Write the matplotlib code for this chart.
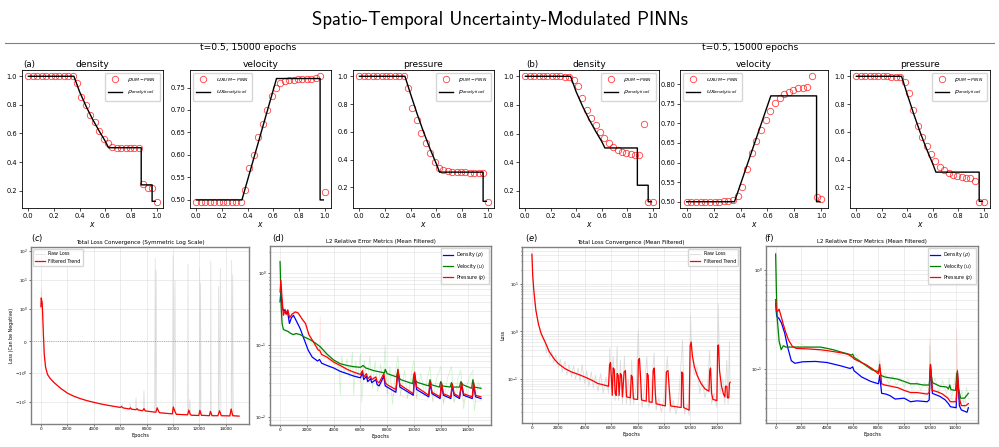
import matplotlib.pyplot as plt
import numpy as np
from matplotlib.lines import Line2D

W, H = 999, 447

# ---------------- top row: profiles at t=0.5 ----------------
x_grid = np.linspace(0, 1, 30)

rho_a = [1.00, 1.00, 1.00, 1.00, 1.00, 1.00, 1.00, 1.00, 1.00, 1.00, 1.00,
         0.95, 0.856, 0.80, 0.73, 0.68, 0.62, 0.56, 0.53, 0.506,
         0.499, 0.497, 0.495, 0.495, 0.495, 0.495, 0.247, 0.219, 0.219, 0.122]
u_a = [0.496, 0.496, 0.496, 0.496, 0.496, 0.496, 0.496, 0.496, 0.496, 0.496, 0.496,
       0.522, 0.572, 0.601, 0.641, 0.669, 0.701, 0.731, 0.750, 0.761, 0.765,
       0.766, 0.767, 0.768, 0.768, 0.769, 0.770, 0.771, 0.775, 0.517]
p_a = [1.00, 1.00, 1.00, 1.00, 1.00, 1.00, 1.00, 1.00, 1.00, 1.00, 1.00,
       0.917, 0.77, 0.686, 0.59, 0.52, 0.445, 0.382, 0.34, 0.324,
       0.315, 0.31, 0.31, 0.31, 0.308, 0.307, 0.306, 0.305, 0.305, 0.097]

rho_b = [1.00, 1.00, 1.00, 1.00, 1.00, 1.00, 1.00, 1.00, 0.999, 0.998, 0.993,
         0.976, 0.93, 0.845, 0.765, 0.71, 0.66, 0.61, 0.567, 0.532, 0.506,
         0.487, 0.475, 0.468, 0.459, 0.454, 0.454, 0.668, 0.125, 0.125]
u_b = [0.50, 0.50, 0.50, 0.50, 0.50, 0.50, 0.50, 0.50, 0.501, 0.502, 0.504,
       0.514, 0.538, 0.583, 0.624, 0.656, 0.682, 0.708, 0.732, 0.751, 0.764,
       0.775, 0.781, 0.785, 0.789, 0.791, 0.793, 0.82, 0.511, 0.507]
p_b = [1.00, 1.00, 1.00, 1.00, 1.00, 1.00, 0.999, 0.999, 0.998, 0.997, 0.993,
       0.956, 0.883, 0.754, 0.64, 0.562, 0.499, 0.438, 0.389, 0.345, 0.324,
       0.304, 0.292, 0.282, 0.272, 0.268, 0.268, 0.246, 0.097, 0.097]

# analytical (exact Riemann) solution
rho_ana_x = [0.0, 0.355, 0.40, 0.45, 0.50, 0.55, 0.60, 0.625, 0.88, 0.88, 0.965, 0.965, 0.99]
rho_ana_y = [1.0, 1.0, 0.89, 0.79, 0.70, 0.62, 0.545, 0.50, 0.50, 0.24, 0.24, 0.125, 0.125]
u_ana_x = [0.0, 0.355, 0.625, 0.965, 0.965, 0.99]
u_ana_y = [0.5, 0.5, 0.77, 0.77, 0.5, 0.5]
p_ana_x = [0.0, 0.355, 0.40, 0.45, 0.50, 0.55, 0.60, 0.625, 0.965, 0.965, 0.99]
p_ana_y = [1.0, 1.0, 0.87, 0.73, 0.60, 0.48, 0.37, 0.31, 0.31, 0.10, 0.10]

# ---------------- (c) total loss, symlog ----------------
c_raw_ep = [0, 40, 80, 150, 250, 400, 700, 1000, 1500, 2000, 3000, 4000, 5000, 6000,
            6150, 6250, 6700, 6750, 6800, 7150, 7200, 7250, 7750, 7800, 7850,
            8600, 8650, 8680, 8720, 8760, 9950, 10000, 10050, 10150, 10200,
            11100, 11130, 11160, 11280, 11320, 11980, 12020, 12060, 12090, 12120,
            12830, 12860, 12890, 13420, 13450, 13480, 13580, 13620,
            14400, 14440, 14470, 14520, 14560, 15000]
c_raw_val = [1.0, 4.5, 1.8, 0.8, -0.3, -0.9, -1.5, -2.1, -3.3, -4.8, -7.5, -10, -12.5, -15,
             -12, -16, -17, -11, -17, -18, -7, -18.5, -19.5, -4, -20,
             -22, 55, -20, 22, -22, -25, 70, -24, 10, -25,
             -27, 35, -26, -8, -27, -28, 25, -26, 7.5, -28,
             -28, 45, -27, -28, 6, -27, 25, -28,
             -28, 48, -27, 15, -29, -30]
c_trend_ep = [0, 25, 100, 180, 250, 350, 500, 700, 1000, 1500, 2000, 2500, 3000, 3500,
              4000, 4500, 5000, 5500, 6000, 6100, 6200, 6700, 6780, 6860, 7200, 7280,
              7360, 7700, 7800, 7900, 8700, 8800, 8920, 9000, 9950, 10020, 10150,
              10250, 11100, 11200, 11300, 11400, 11950, 12030, 12150, 12750, 12830,
              12950, 13400, 13520, 13650, 14300, 14400, 14520, 15000]
c_trend_val = [1.2, 2.4, 1.6, 0.3, -0.4, -0.8, -1.1, -1.5, -2.1, -3.3, -4.8, -6.2, -7.5, -8.8,
               -10, -11.3, -12.5, -13.7, -15, -14, -15.5, -17, -15.5, -17.3, -18, -16.5,
               -18.3, -19.5, -16.5, -19.8, -22, -15.5, -21, -23, -25, -14.5, -21,
               -26, -27, -18.5, -26, -28, -28.5, -19, -28, -29, -20.5,
               -29, -29, -19.5, -29, -29.5, -17, -29, -30]

# ---------------- (d) L2 errors, run 1 ----------------
d_rho_ep = [0, 60, 150, 250, 350, 450, 550, 700, 850, 1000, 1200, 1500, 1800, 2100, 2400,
            2800, 2950, 3100, 3500, 4000, 4500, 5000, 5500, 6000, 6150, 6250, 6450, 6550,
            6750, 6850, 7150, 7250, 7400, 7750, 7850, 8000, 8650, 8800, 8950, 9950, 10050,
            10200, 11100, 11200, 11350, 11950, 12050, 12200, 12750, 12850, 13000, 13400,
            13550, 13700, 14350, 14450, 14600, 15000]
d_rho_val = [0.4, 0.55, 0.35, 0.3, 0.31, 0.27, 0.3, 0.2, 0.24, 0.26, 0.22, 0.17, 0.12, 0.085, 0.068,
             0.06, 0.063, 0.056, 0.052, 0.048, 0.043, 0.04, 0.037, 0.035, 0.041, 0.033, 0.037, 0.031,
             0.034, 0.03, 0.033, 0.028, 0.027, 0.037, 0.027, 0.026, 0.022, 0.043, 0.026, 0.02, 0.039,
             0.024, 0.019, 0.029, 0.021, 0.018, 0.028, 0.02, 0.018, 0.027, 0.02, 0.018,
             0.028, 0.02, 0.018, 0.028, 0.019, 0.018]
d_u_ep = [0, 30, 80, 150, 250, 400, 600, 800, 1000, 1200, 1500, 1800, 2200, 2600, 3000, 3500,
          4000, 4500, 5000, 5500, 6000, 6200, 6400, 7000, 7800, 7850, 8000, 8700, 8800, 8900,
          9000, 9900, 10000, 10100, 10300, 11100, 11200, 11300, 11900, 12000, 12100, 12700,
          12800, 12900, 13400, 13500, 13650, 14300, 14400, 14500, 15000]
d_u_val = [1.45, 0.9, 0.35, 0.2, 0.165, 0.16, 0.155, 0.145, 0.14, 0.145, 0.14, 0.13, 0.12, 0.108,
           0.095, 0.075, 0.062, 0.055, 0.052, 0.05, 0.049, 0.052, 0.048, 0.044, 0.041, 0.046, 0.04,
           0.036, 0.045, 0.035, 0.033, 0.029, 0.04, 0.032, 0.03, 0.027, 0.033, 0.028, 0.026, 0.031,
           0.027, 0.026, 0.03, 0.026, 0.026, 0.031, 0.028, 0.025, 0.033, 0.026, 0.025]
d_p_ep = [0, 60, 150, 250, 380, 480, 580, 720, 900, 1150, 1350, 1650, 1900, 2150, 2500, 2850,
          2950, 3100, 3500, 4000, 4500, 5000, 5500, 6000, 6150, 6250, 6450, 6550, 6750, 6850,
          7150, 7250, 7400, 7750, 7850, 8000, 8650, 8800, 8950, 9950, 10050, 10200, 11100,
          11200, 11350, 11950, 12050, 12200, 12750, 12850, 13000, 13400, 13550, 13700, 14350,
          14450, 14600, 15000]
d_p_val = [0.55, 0.8, 0.45, 0.26, 0.31, 0.27, 0.31, 0.24, 0.27, 0.29, 0.28, 0.23, 0.2, 0.14,
           0.11, 0.085, 0.085, 0.074, 0.068, 0.058, 0.052, 0.046, 0.042, 0.039, 0.044, 0.036,
           0.04, 0.034, 0.037, 0.033, 0.036, 0.031, 0.03, 0.04, 0.03, 0.028, 0.024, 0.046, 0.028,
           0.021, 0.042, 0.026, 0.02, 0.031, 0.022, 0.019, 0.03, 0.021, 0.019, 0.029, 0.021,
           0.019, 0.03, 0.021, 0.019, 0.03, 0.02, 0.019]
d_u_raw_ep = [0, 100, 200, 600, 1000, 1500, 2000, 2500, 3000, 3500, 4000, 4400, 4500, 4600,
              4800, 5000, 5200, 5400, 5500, 5650, 5800, 6000, 6100, 6300, 6500, 6700, 6900,
              7100, 7300, 7500, 7700, 7850, 8000, 8200, 8400, 8600, 8800, 9000, 9300, 9500,
              9800, 10000, 10200, 10500, 10800, 11000, 11200, 11400, 11700, 12000, 12200,
              12500, 12800, 13000, 13300, 13500, 13700, 14000, 14400, 14500, 14800, 15000]
d_u_raw_val = [1.5, 0.4, 0.17, 0.15, 0.14, 0.14, 0.12, 0.1, 0.09, 0.07, 0.06, 0.05, 0.02, 0.07,
               0.04, 0.065, 0.035, 0.08, 0.02, 0.06, 0.035, 0.075, 0.016, 0.06, 0.03, 0.07, 0.025,
               0.06, 0.022, 0.055, 0.03, 0.1, 0.02, 0.05, 0.015, 0.04, 0.07, 0.02, 0.045, 0.018,
               0.04, 0.06, 0.018, 0.04, 0.02, 0.035, 0.05, 0.017, 0.035, 0.05, 0.015,
               0.035, 0.05, 0.016, 0.035, 0.045, 0.013, 0.03, 0.045, 0.012, 0.03, 0.025]
d_p_raw_ep = [0, 100, 200, 400, 700, 1000, 1500, 2000, 2500, 2950, 3000, 3050, 3500, 4000,
              4500, 5000, 5500, 6000, 6200, 6500, 7000, 7500, 7850, 8000, 8500, 8800, 9000,
              9500, 10000, 10200, 11000, 11200, 11400, 12000, 12200, 12800, 13000, 13500,
              13700, 14400, 14600, 15000]
d_p_raw_val = [0.9, 0.35, 0.25, 0.33, 0.24, 0.3, 0.26, 0.17, 0.11, 0.085, 0.25, 0.07, 0.065,
               0.055, 0.05, 0.045, 0.04, 0.03, 0.05, 0.03, 0.035, 0.025, 0.045, 0.022, 0.02,
               0.05, 0.02, 0.018, 0.045, 0.018, 0.017, 0.033, 0.016, 0.032, 0.016, 0.03, 0.016,
               0.032, 0.016, 0.033, 0.016, 0.017]

# ---------------- (e) total loss, run 2 ----------------
e_raw_ep = [0, 50, 120, 250, 400, 600, 800, 1000, 1100, 1200, 1350, 1500, 1650, 1800, 2000,
            2150, 2300, 2500, 2650, 2800, 3000, 3150, 3300, 3500, 3650, 3800, 4000, 4150, 4300,
            4500, 4650, 4800, 5000, 5200, 5400, 5600, 5800, 5900, 6000, 6150, 6300, 6450, 6550,
            6700, 6850, 7000, 7150, 7300, 7450, 7550, 7700, 7900, 8050, 8200, 8350, 8500, 8700,
            8850, 9000, 9250, 9400, 9600, 9800, 10000, 10250, 10450, 10700, 10900, 11100,
            11400, 11550, 11750, 11900, 12000, 12100, 12300, 12500, 12700, 12900, 13100, 13300,
            13450, 13600, 13800, 14000, 14100, 14250, 14450, 14600, 14750, 14850, 14950, 15000]
e_raw_val = [45, 20, 8, 3.5, 2, 1.1, 0.75, 0.55, 0.35, 0.5, 0.28, 0.38, 0.22, 0.32, 0.17,
             0.26, 0.14, 0.24, 0.12, 0.2, 0.11, 0.19, 0.1, 0.17, 0.09, 0.2, 0.08, 0.15, 0.07,
             0.14, 0.065, 0.12, 0.055, 0.13, 0.05, 0.11, 0.05, 0.45, 0.06, 0.3, 0.035, 0.48, 0.035,
             0.25, 0.03, 0.3, 0.03, 0.1, 0.028, 0.25, 0.03, 0.07, 1.05, 0.05, 0.025, 0.06, 0.3,
             0.025, 0.05, 0.35, 0.022, 0.04, 0.02, 0.04, 0.3, 0.02, 0.035, 0.018, 0.035,
             0.65, 0.018, 0.03, 0.017, 2.2, 0.4, 0.12, 0.18, 0.05, 0.09, 0.04, 0.07,
             0.4, 0.03, 0.05, 0.025, 3.6, 0.05, 0.1, 0.03, 0.25, 0.03, 0.6, 0.06]
e_trend_ep = [0, 60, 150, 300, 500, 700, 1000, 1300, 1700, 2000, 2500, 3000, 3500, 4000, 4500,
              5000, 5500, 5800, 5880, 5950, 6020, 6080, 6150, 6230, 6300, 6380, 6450, 6530, 6600,
              6700, 6780, 6850, 6980, 7080, 7160, 7450, 7520, 7600, 7680, 8000, 8060, 8140, 8230,
              8300, 8650, 8720, 8800, 8870, 9100, 9180, 9260, 9340, 9400, 10100, 10180, 10300,
              10400, 10500, 11300, 11340, 11420, 11480, 11900, 11980, 12050, 12150, 12300,
              12500, 12800, 13100, 13400, 13460, 13520, 13600, 13700, 14000, 14060, 14120,
              14200, 14350, 14500, 14600, 14650, 14750, 14800, 14900, 14950, 15000]
e_trend_val = [42, 15, 7, 2.8, 1.4, 0.9, 0.6, 0.38, 0.26, 0.21, 0.165, 0.14, 0.125, 0.11, 0.095,
               0.08, 0.074, 0.07, 0.2, 0.22, 0.1, 0.045, 0.17, 0.16, 0.05, 0.045, 0.13, 0.12, 0.045,
               0.13, 0.12, 0.042, 0.14, 0.15, 0.042, 0.04, 0.12, 0.11, 0.038, 0.037, 0.25, 0.27, 0.1,
               0.036, 0.034, 0.13, 0.12, 0.033, 0.032, 0.15, 0.17, 0.05, 0.03, 0.027, 0.14, 0.15,
               0.06, 0.027, 0.025, 0.14, 0.13, 0.025, 0.022, 0.5, 0.6, 0.3, 0.18,
               0.12, 0.08, 0.062, 0.055, 0.15, 0.17, 0.05, 0.037, 0.035, 0.5, 0.52,
               0.15, 0.07, 0.048, 0.042, 0.07, 0.07, 0.04, 0.04, 0.08, 0.085]

# ---------------- (f) L2 errors, run 2 ----------------
f_rho_ep = [0, 80, 270, 450, 700, 960, 1220, 1500, 2100, 3100, 4000, 5000, 5800, 6000, 6100,
            6700, 7400, 8000, 8100, 8250, 8600, 8900, 9300, 10000, 10500, 11000, 11800, 11950,
            12050, 12200, 12800, 13200, 13450, 13600, 14050, 14150, 14300, 14450, 14900, 15000]
f_rho_val = [0.46, 0.34, 0.32, 0.29, 0.23, 0.16, 0.12, 0.113, 0.117, 0.118, 0.115, 0.107, 0.1,
             0.104, 0.095, 0.082, 0.074, 0.07, 0.085, 0.056, 0.055, 0.053, 0.049, 0.05, 0.046,
             0.047, 0.046, 0.048, 0.11, 0.056, 0.052, 0.048, 0.044, 0.041, 0.04, 0.09, 0.042,
             0.038, 0.036, 0.04]
f_u_ep = [0, 60, 120, 270, 430, 600, 800, 1500, 2500, 3500, 4000, 4500, 5000, 5500, 5900, 6000,
          6100, 6500, 7000, 7500, 8000, 8100, 8200, 8500, 9000, 9500, 10000, 10500, 11000, 11500,
          11950, 12050, 12200, 12800, 13300, 13450, 13550, 13650, 14000, 14100, 14200, 14400,
          14700, 15000]
f_u_val = [1.45, 0.6, 0.33, 0.19, 0.155, 0.17, 0.165, 0.165, 0.165, 0.165, 0.16, 0.155, 0.148,
           0.142, 0.137, 0.14, 0.13, 0.12, 0.108, 0.097, 0.093, 0.1, 0.085, 0.082, 0.08, 0.078,
           0.074, 0.07, 0.07, 0.068, 0.068, 0.1, 0.072, 0.066, 0.065, 0.062, 0.068, 0.061, 0.06,
           0.09, 0.065, 0.05, 0.05, 0.056]
f_p_ep = [0, 60, 150, 270, 450, 600, 800, 1000, 1300, 1600, 2500, 3500, 4000, 5000, 5600, 6000,
          6100, 6500, 7000, 7500, 8000, 8100, 8250, 8500, 9000, 9500, 10000, 10500, 11000, 11800,
          11950, 12050, 12200, 12600, 13000, 13400, 13600, 14050, 14150, 14300, 14450, 14800,
          15000]
f_p_val = [0.5, 0.38, 0.38, 0.4, 0.33, 0.28, 0.23, 0.195, 0.168, 0.16, 0.158, 0.155, 0.152,
           0.145, 0.14, 0.13, 0.125, 0.118, 0.11, 0.1, 0.088, 0.11, 0.07, 0.068, 0.066, 0.064,
           0.06, 0.057, 0.057, 0.055, 0.057, 0.11, 0.06, 0.058, 0.055, 0.05, 0.046, 0.046, 0.095,
           0.05, 0.042, 0.042, 0.044]
f_u_raw_ep = [0, 80, 200, 600, 2000, 4000, 5800, 6000, 6200, 6800, 7400, 7900, 8100, 8200,
              8500, 8800, 9100, 9400, 9700, 10000, 10300, 10600, 11000, 11300, 11600, 11950,
              12000, 12100, 12400, 12700, 13000, 13300, 13500, 13700, 14000, 14150, 14300,
              14500, 14700, 14850, 15000]
f_u_raw_val = [1.5, 0.3, 0.18, 0.17, 0.165, 0.16, 0.14, 0.125, 0.14, 0.11, 0.1, 0.09, 0.12,
               0.075, 0.09, 0.07, 0.085, 0.068, 0.08, 0.065, 0.078, 0.062, 0.075, 0.06, 0.072,
               0.06, 0.17, 0.06, 0.08, 0.058, 0.075, 0.055, 0.08, 0.05, 0.085, 0.1, 0.045, 0.06,
               0.04, 0.065, 0.05]
f_p_raw_ep = [0, 100, 1000, 3000, 6000, 7500, 8050, 8100, 8200, 9000, 10000, 11000, 11950,
              12000, 12100, 13000, 14050, 14100, 14200, 15000]
f_p_raw_val = [0.5, 0.38, 0.2, 0.155, 0.13, 0.1, 0.088, 0.14, 0.068, 0.066, 0.06, 0.057, 0.057,
               0.2, 0.06, 0.055, 0.046, 0.25, 0.05, 0.044]

panel_titles = ["density", "velocity", "pressure"]
legend_locs = ["upper right", "upper left", "upper right"]
subtitle = "t=0.5, 15000 epochs"


def px_axes(fig, left, top, right, bottom):
    return fig.add_axes([left / W, 1 - bottom / H, (right - left) / W, (bottom - top) / H])


def plot_profile(ax, pred, ana_x, ana_y, sym, title, loc):
    ax.plot(x_grid, pred, 'o', mfc='none', mec='red', alpha=0.75, ms=4.6, mew=0.6,
            label=rf'${sym}_{{UM-PINN}}$')
    ax.plot(ana_x, ana_y, color='black', lw=1.0, label=rf'${sym}_{{analytical}}$')
    ax.set_title(title, fontsize=6.6, pad=2)
    ax.set_xlabel(r'$x$', fontsize=5.5, labelpad=1)
    ax.set_xticks([0, 0.2, 0.4, 0.6, 0.8, 1.0])
    ax.tick_params(labelsize=4.8, length=2, width=0.5, pad=1.5)
    for s in ax.spines.values():
        s.set_linewidth(0.6)
    ax.legend(loc=loc, fontsize=4.6, handlelength=2.2, borderpad=0.5, labelspacing=0.7)


def style_bottom(ax, title, ylabel=None):
    ax.set_xlim(-750, 15750)
    ax.set_xticks(range(0, 15000, 2000))
    ax.set_title(title, fontsize=4.0, pad=2)
    ax.set_xlabel("Epochs", fontsize=3.6, labelpad=1)
    if ylabel:
        ax.set_ylabel(ylabel, fontsize=3.4, labelpad=1)
    ax.tick_params(which='both', labelsize=3.0, length=1.5, width=0.4, pad=1)
    ax.tick_params(which='minor', length=0.8)
    for s in ax.spines.values():
        s.set_color('#808080')
        s.set_linewidth(1.0)


fig = plt.figure(figsize=(9.99, 4.47), dpi=100)

fig.text(0.5, 1 - 20 / H, "Spatio-Temporal Uncertainty-Modulated PINNs", family='cmss10',
         fontsize=13.5, ha='center', va='center')
fig.add_artist(Line2D([5 / W, 994 / W], [1 - 43 / H, 1 - 43 / H], color='#808080', lw=0.8))
fig.text(248 / W, 1 - 48 / H, subtitle, fontsize=6.6, ha='center', va='center')
fig.text(750 / W, 1 - 48 / H, subtitle, fontsize=6.6, ha='center', va='center')
fig.text(29 / W, 1 - 64 / H, "(a)", fontsize=6.2, ha='center', va='center')
fig.text(532 / W, 1 - 64 / H, "(b)", fontsize=6.2, ha='center', va='center')

top_boxes_a = [(22, 163), (190, 331), (353, 494)]
top_boxes_b = [(519, 659), (680, 828), (850, 990)]
for boxes, preds in [(top_boxes_a, [rho_a, u_a, p_a]), (top_boxes_b, [rho_b, u_b, p_b])]:
    for (l, r), pred, ax_x, ax_y, sym, t, loc in zip(boxes, preds,
                                                  [rho_ana_x, u_ana_x, p_ana_x],
                                                  [rho_ana_y, u_ana_y, p_ana_y],
                                                  [r'\rho', 'ux', 'p'], panel_titles, legend_locs):
        plot_profile(px_axes(fig, l, 70, r, 208), pred, ax_x, ax_y, sym, t, loc)

# (c)
ax = px_axes(fig, 31, 247, 249, 424)
ax.plot(c_raw_ep, c_raw_val, color='lightgray', lw=0.5, alpha=0.8, label='Raw Loss')
ax.plot(c_trend_ep, c_trend_val, color='red', lw=0.9, label='Filtered Trend')
ax.axhline(0, color='gray', ls=':', lw=0.6, alpha=0.8)
ax.set_yscale('symlog', linthresh=1)
ax.set_ylim(-56, 137)
ax.grid(True, color='#dddddd', lw=0.4)
style_bottom(ax, "Total Loss Convergence (Symmetric Log Scale)", "Loss (Can be Negative)")
ax.legend(loc='upper left', fontsize=3.4)

# (d)
ax = px_axes(fig, 270, 246, 491, 425)
ax.plot(d_u_raw_ep, d_u_raw_val, color='limegreen', lw=0.5, alpha=0.25)
ax.plot(d_p_raw_ep, d_p_raw_val, color='red', lw=0.5, alpha=0.12)
ax.plot(d_rho_ep, d_rho_val, color='blue', lw=0.9, label=r'Density ($\rho$)')
ax.plot(d_u_ep, d_u_val, color='green', lw=0.9, label=r'Velocity ($u$)')
ax.plot(d_p_ep, d_p_val, color='red', lw=0.9, label=r'Pressure ($p$)')
ax.set_yscale('log')
ax.set_ylim(0.0077, 2.4)
ax.grid(True, which='both', color='#e0e0e0', lw=0.4)
style_bottom(ax, "L2 Relative Error Metrics (Mean Filtered)")
ax.legend(loc='upper right', fontsize=3.4)

# (e)
ax = px_axes(fig, 522, 247, 740, 423)
ax.plot(e_raw_ep, e_raw_val, color='lightgray', lw=0.6, alpha=0.8, label='Raw Loss')
ax.plot(e_trend_ep, e_trend_val, color='red', lw=0.9, label='Filtered Trend')
ax.set_yscale('log')
ax.set_ylim(0.0118, 60)
ax.grid(True, which='both', color='#e0e0e0', lw=0.4)
style_bottom(ax, "Total Loss Convergence (Mean Filtered)", "Loss")
ax.legend(loc='upper right', fontsize=3.4)

# (f)
ax = px_axes(fig, 766, 246, 978, 423)
ax.plot(f_u_raw_ep, f_u_raw_val, color='limegreen', lw=0.5, alpha=0.25)
ax.plot(f_p_raw_ep, f_p_raw_val, color='red', lw=0.5, alpha=0.15)
ax.plot(f_rho_ep, f_rho_val, color='blue', lw=0.9, label=r'Density ($\rho$)')
ax.plot(f_u_ep, f_u_val, color='green', lw=0.9, label=r'Velocity ($u$)')
ax.plot(f_p_ep, f_p_val, color='red', lw=0.9, label=r'Pressure ($p$)')
ax.set_yscale('log')
ax.set_ylim(0.028, 1.75)
ax.grid(True, which='both', color='#e0e0e0', lw=0.4)
style_bottom(ax, "L2 Relative Error Metrics (Mean Filtered)")
ax.legend(loc='upper right', fontsize=3.4)

for (x, y), lab in zip([(37, 238), (278, 238), (531, 238), (769, 238)],
                       [r"($c$)", "(d)", r"($e$)", "(f)"]):
    fig.text(x / W, 1 - y / H, lab, fontsize=6.0, ha='center', va='center')

fig.savefig("out.png", dpi=100)
